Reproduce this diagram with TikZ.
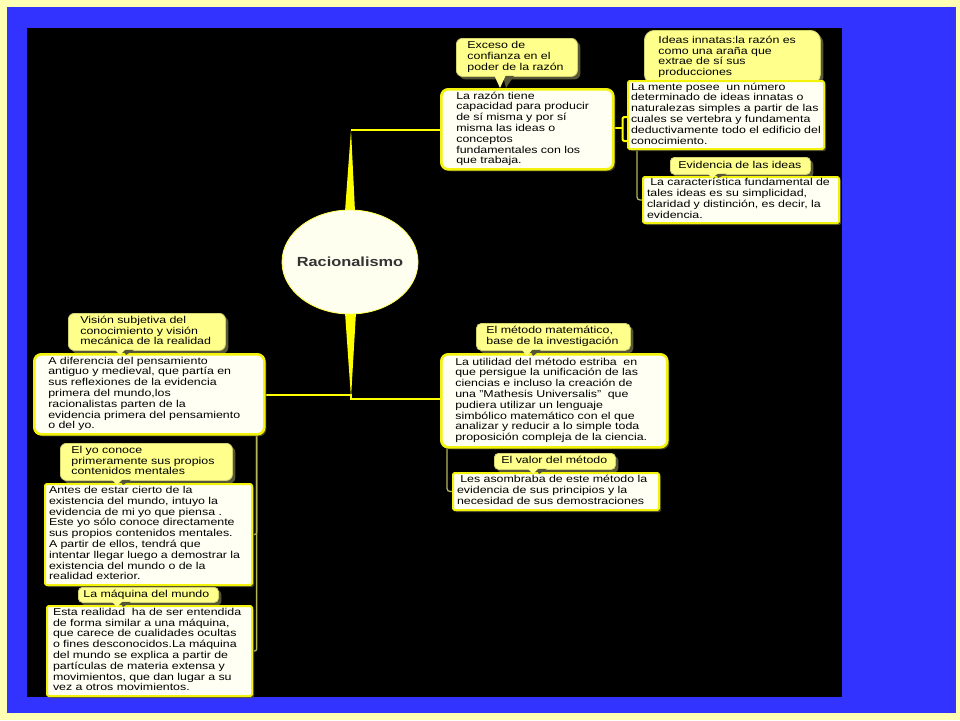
\documentclass[tikz,border=0pt]{standalone}
\usepackage{fontspec}
\setmainfont{Liberation Sans}[FakeStretch=1.24]
\usetikzlibrary{shadows,calc,shapes.geometric}
\definecolor{outerc}{HTML}{FFFFB4}
\definecolor{bluec}{HTML}{3333FF}
\definecolor{linec}{HTML}{FFFF00}
\definecolor{thinc}{HTML}{B4B45A}
\definecolor{boxfill}{HTML}{FFFFF4}
\definecolor{boxdraw}{HTML}{F2F20A}
\definecolor{cfill}{HTML}{FFFF8C}
\definecolor{cdraw}{HTML}{D2D26E}
\definecolor{cshade}{HTML}{55553A}
\definecolor{bshade}{HTML}{4A4A30}
\definecolor{ellfill}{HTML}{FFFFF0}
\definecolor{titlec}{HTML}{333333}
\newcommand{\txtlines}[1]{\begin{tabular}{@{}l@{}}#1\end{tabular}}
\newcommand{\cptr}[3]{%
  \fill[cshade] ($(#1.south west)+(#2+3,-1)$) -- ++(11,0) -- ($(#3)+(6,0)$) -- cycle;
  \fill[cfill] ($(#1.south west)+(#2-6,-2)$) -- ++(12,0) -- (#3) -- cycle;}
\pgfdeclarelayer{bg}
\pgfdeclarelayer{conn}
\pgfsetlayers{bg,conn,main}
\tikzset{
  txt/.style={font=\fontsize{10}{10.8}\selectfont, align=left, anchor=north west, inner ysep=1pt, text=black},
  bigbox/.style={txt, draw=boxdraw, line width=2.6pt, fill=boxfill, rounded corners=7pt,
    drop shadow={shadow xshift=2pt, shadow yshift=-2pt, fill=bshade, opacity=0.9}},
  plainbox/.style={txt, draw=boxdraw, line width=2pt, fill=boxfill, rounded corners=1.5pt,
    drop shadow={shadow xshift=2pt, shadow yshift=-2pt, fill=bshade, opacity=0.9}},
  callbox/.style={txt, draw=cdraw, line width=0.8pt, fill=cfill, rounded corners=6pt,
    drop shadow={shadow xshift=3pt, shadow yshift=-3pt, fill=cshade, opacity=1}},
  mainline/.style={draw=linec, line width=2.6pt},
  thinline/.style={draw=thinc, line width=1.3pt},
}
\begin{document}
\begin{tikzpicture}[x=1pt,y=-1pt]
\useasboundingbox (0,0) rectangle (960,720);
\begin{pgfonlayer}{bg}
  \fill[outerc] (0,0) rectangle (960,720);
  \fill[bluec] (7,7) rectangle (956,713);
  \fill[black] (27,28) rectangle (842,697);
\end{pgfonlayer}

% central topic
\node[ellipse, draw=linec!70!white, line width=0.8pt, fill=ellfill, minimum width=136pt, minimum height=104pt,
  inner sep=0pt] (ell) at (350,262) {};
\node[inner sep=0pt, font=\bfseries\fontsize{13.2}{14}\selectfont, text=titlec] (elltxt) at (ell.center) {Racionalismo};

% top right group
\node[callbox, inner xsep=11pt, text width=99pt, minimum height=38pt] (A) at (456,38)
  {\txtlines{Exceso de\\ confianza en el\\ poder de la razón}};
\node[bigbox, inner xsep=15pt, text width=142pt, minimum height=80pt] (B) at (440,88)
  {\txtlines{La razón tiene\\ capacidad para producir\\ de sí misma y por sí\\ misma las ideas o\\ conceptos\\ fundamentales con los\\ que trabaja.}};
\node[callbox, rounded corners=10pt, inner xsep=14pt, text width=148pt, minimum height=54pt] (C) at (644,30)
  {\txtlines{Ideas innatas:la razón es\\ como una araña que\\ extrae de sí sus\\ producciones}};
\node[plainbox, inner xsep=3pt, text width=190pt, minimum height=68pt] (D) at (627,80)
  {\txtlines{La mente posee\ \ un número\\ determinado de ideas innatas o\\ naturalezas simples a partir de las\\ cuales se vertebra y fundamenta\\ deductivamente todo el edificio del\\ conocimiento.}};
\node[callbox, rounded corners=4pt, inner xsep=8pt, text width=124pt, minimum height=17pt] (E) at (670,157)
  {\txtlines{Evidencia de las ideas}};
\node[plainbox, inner xsep=4pt, text width=188pt, minimum height=46pt] (F) at (642,176)
  {\txtlines{\ La característica fundamental de\\ tales ideas es su simplicidad,\\ claridad y distinción, es decir, la\\ evidencia.}};

% bottom right group
\node[callbox, rounded corners=5pt, inner xsep=10pt, text width=134pt, minimum height=27pt] (G) at (476,323)
  {\txtlines{El método matemático,\\ base de la investigación}};
\node[bigbox, inner xsep=14pt, text width=198pt, minimum height=93pt] (H) at (440,353)
  {\txtlines{La utilidad del método estriba\ \ en\\ que persigue la unificación de las\\ ciencias e incluso la creación de\\ una "Mathesis Universalis"\ \ que\\ pudiera utilizar un lenguaje\\ simbólico matemático con el que\\ analizar y reducir a lo simple toda\\ proposición compleja de la ciencia.}};
\node[callbox, rounded corners=4pt, inner xsep=7pt, text width=107pt, minimum height=16pt] (I) at (494,453)
  {\txtlines{El valor del método}};
\node[plainbox, inner xsep=4pt, text width=198pt, minimum height=37pt] (J) at (452,472)
  {\txtlines{\ Les asombraba de este método la\\ evidencia de sus principios y la\\ necesidad de sus demostraciones}};

% left group
\node[callbox, inner xsep=12pt, text width=133pt, minimum height=37pt] (K) at (68,313)
  {\txtlines{Visión subjetiva del\\ conocimiento y visión\\ mecánica de la realidad}};
\node[bigbox, inner xsep=14pt, text width=202pt, minimum height=80pt] (L) at (33,353)
  {\txtlines{A diferencia del pensamiento\\ antiguo y medieval, que partía en\\ sus reflexiones de la evidencia\\ primera del mundo,los\\ racionalistas parten de la\\ evidencia primera del pensamiento\\ o del yo.}};
\node[callbox, inner xsep=11pt, text width=150pt, minimum height=37pt] (M) at (60,443)
  {\txtlines{El yo conoce\\ primeramente sus propios\\ contenidos mentales}};
\node[plainbox, inner xsep=4pt, text width=199pt, minimum height=101pt] (N) at (44,483)
  {\txtlines{Antes de estar cierto de la\\ existencia del mundo, intuyo la\\ evidencia de mi yo que piensa .\\ Este yo sólo conoce directamente\\ sus propios contenidos mentales.\\ A partir de ellos, tendrá que\\ intentar llegar luego a demostrar la\\ existencia del mundo o de la\\ realidad exterior.}};
\node[callbox, rounded corners=4pt, inner xsep=5pt, text width=130pt, minimum height=15pt] (O) at (78,587)
  {\txtlines{La máquina del mundo}};
\node[plainbox, inner xsep=6pt, text width=193pt, minimum height=90pt] (P) at (46,605)
  {\txtlines{Esta realidad\ \ ha de ser entendida\\ de forma similar a una máquina,\\ que carece de cualidades ocultas\\ o fines desconocidos.La máquina\\ del mundo se explica a partir de\\ partículas de materia extensa y\\ movimientos, que dan lugar a su\\ vez a otros movimientos.}};

% callout pointers
\coordinate (tA) at (500,88);
\coordinate (tE) at (712,178);
\coordinate (tG) at (527,356);
\coordinate (tI) at (533,474);
\coordinate (tK) at (120,355);
\coordinate (tM) at (117,485);
\coordinate (tO) at (117,607);
\cptr{A}{44}{tA}
\cptr{E}{43}{tE}
\cptr{G}{51}{tG}
\cptr{I}{39}{tI}
\cptr{K}{52}{tK}
\cptr{M}{57}{tM}
\cptr{O}{39}{tO}

% connectors
\coordinate (ttip) at (351,130);
\coordinate (btip) at (351,398);
\coordinate (bl) at (351,395);
\coordinate (br) at (351,399);
\coordinate (bd) at (622,128);
\begin{pgfonlayer}{conn}
  \fill[linec] ($(ell.north)+(-5,2)$) -- ($(ell.north)+(5,2)$) -- (ttip) -- cycle;
  \fill[linec] ($(ell.south)+(-5,-2)$) -- ($(ell.south)+(6,-2)$) -- (btip) -- cycle;
  \draw[mainline] (ttip) -- (ttip -| B.west);
  \draw[mainline] (L.east |- bl) -- (bl) -- (br) -- (br -| H.west);
  \draw[mainline, line width=2pt] (B.east |- bd) -- (bd);
  \draw[mainline, line width=2pt, rounded corners=2pt] (627,117) -- (622.5,117) -- (622.5,141) -- (627,141);
  \draw[thinline, rounded corners=3pt] ($(D.south west)+(10,0)$) |- (F.west);
  \draw[thinline, rounded corners=3pt] ($(H.south west)+(7,0)$) |- (J.west);
  \draw[thinline, rounded corners=2pt] ($(L.south east)+(-9,0)$) |- (N.east);
  \draw[thinline, rounded corners=2pt] ($(L.south east)+(-9,0)$) |- (P.east);
\end{pgfonlayer}
\end{tikzpicture}
\end{document}
